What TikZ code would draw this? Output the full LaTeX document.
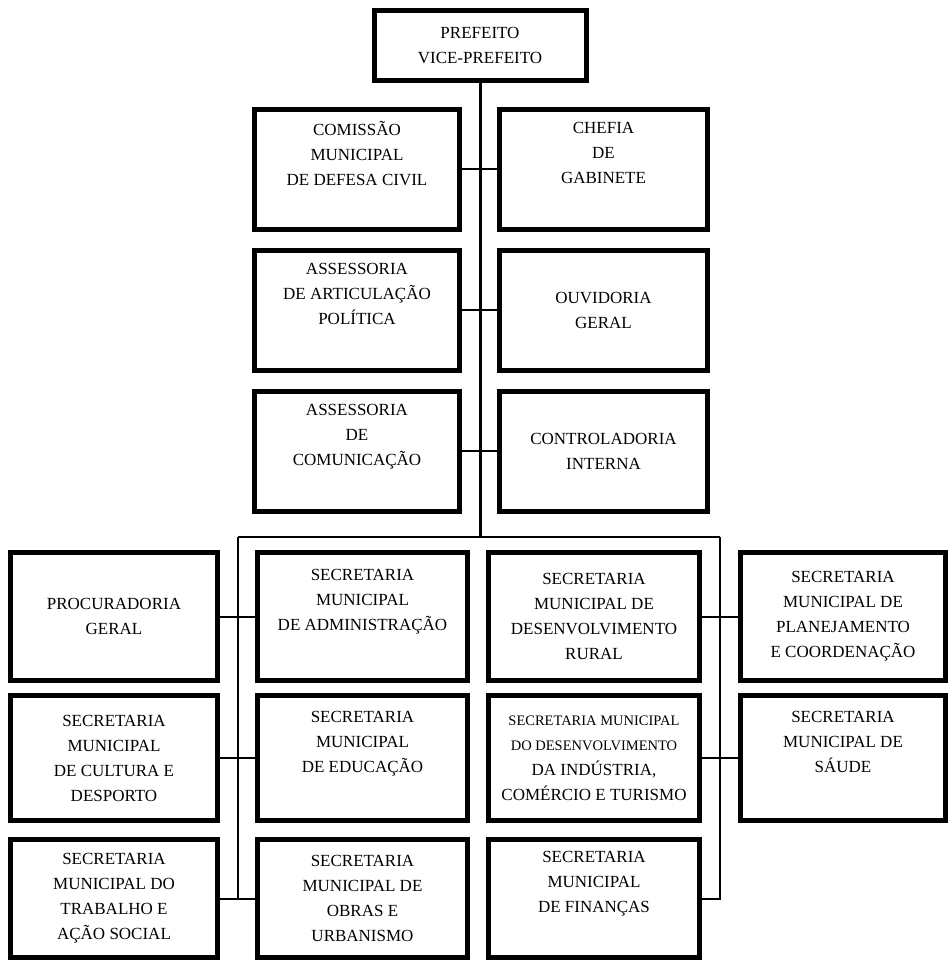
\documentclass[tikz,border=0pt]{standalone}
\usepackage{fontspec}
\setmainfont{Liberation Serif}
\begin{document}
\begin{tikzpicture}[x=1pt,y=-1pt,
    box/.style = {draw, rectangle, line width=5pt, inner sep=0pt, align=center,
                  font=\fontsize{17}{25}\selectfont},
    link/.style = {line width=2pt}]
\useasboundingbox (0,0) rectangle (948,960);

% chefe do executivo
\node[box, minimum width=212pt, minimum height=70pt] (pref) at (480,45.5) {PREFEITO\\VICE-PREFEITO};

% orgaos de assessoria
\node[box, minimum width=205pt, minimum height=120pt] (defesa) at (357,169.5) {COMISSÃO\\MUNICIPAL\\DE DEFESA CIVIL\\ \strut};
\node[box, minimum width=208pt, minimum height=120pt] (chefia) at (603.5,169.5) {CHEFIA\\DE\\GABINETE\\ \strut};
\node[box, minimum width=205pt, minimum height=120pt] (artic) at (357,310) {ASSESSORIA\\DE ARTICULAÇÃO\\POLÍTICA\\ \strut};
\node[box, minimum width=208pt, minimum height=120pt] (ouvid) at (603.5,310) {OUVIDORIA\\GERAL};
\node[box, minimum width=205pt, minimum height=120pt] (comun) at (357,451) {ASSESSORIA\\DE\\COMUNICAÇÃO\\ \strut};
\node[box, minimum width=208pt, minimum height=120pt] (contr) at (603.5,451) {CONTROLADORIA\\INTERNA};

% secretarias
\node[box, minimum width=207pt, minimum height=128pt] (procur) at (114,616.5) {PROCURADORIA\\GERAL};
\node[box, minimum width=210pt, minimum height=128pt] (admin) at (362.5,616.5) {SECRETARIA\\MUNICIPAL\\DE ADMINISTRAÇÃO\\ \strut};
\node[box, minimum width=211pt, minimum height=128pt] (rural) at (594,616.5) {SECRETARIA\\MUNICIPAL DE\\DESENVOLVIMENTO\\RURAL};
\node[box, minimum width=205pt, minimum height=128pt] (planej) at (843,616.5) {SECRETARIA\\MUNICIPAL DE\\PLANEJAMENTO\\E COORDENAÇÃO};

\node[box, minimum width=207pt, minimum height=125pt] (cultura) at (114,758) {SECRETARIA\\MUNICIPAL\\DE CULTURA E\\DESPORTO};
\node[box, minimum width=210pt, minimum height=125pt] (educ) at (362.5,758) {SECRETARIA\\MUNICIPAL\\DE EDUCAÇÃO\\ \strut};
\node[box, minimum width=211pt, minimum height=125pt] (industria) at (594,758) {{\fontsize{14.5}{25}\selectfont SECRETARIA MUNICIPAL}\\{\fontsize{14.5}{25}\selectfont DO DESENVOLVIMENTO}\\DA INDÚSTRIA,\\COMÉRCIO E TURISMO};
\node[box, minimum width=205pt, minimum height=125pt] (saude) at (843,758) {SECRETARIA\\MUNICIPAL DE\\SÁUDE\\ \strut};

\node[box, minimum width=207pt, minimum height=118pt] (trabalho) at (114,898.5) {SECRETARIA\\MUNICIPAL DO\\TRABALHO E\\AÇÃO SOCIAL};
\node[box, minimum width=210pt, minimum height=118pt] (obras) at (362.5,898.5) {SECRETARIA\\MUNICIPAL DE\\OBRAS E\\URBANISMO};
\node[box, minimum width=211pt, minimum height=118pt] (financas) at (594,898.5) {SECRETARIA\\MUNICIPAL\\DE FINANÇAS\\ \strut};

\coordinate (busm) at (480,537);
\coordinate (busl) at (238,537);
\coordinate (busr) at (720,537);

% ligacoes
\draw[line width=3pt] (pref.south) -- (busm);
\draw[link] (defesa.east) -- (chefia.west);
\draw[link] (artic.east) -- (ouvid.west);
\draw[link] (comun.east) -- (contr.west);
\draw[link] (busl) -- (busr);
\draw[link] (busl) -- (busl |- trabalho.east);
\draw[link] (busr) -- (busr |- financas.east) -- (financas.east);
\draw[link] (procur.east) -- (admin.west);
\draw[link] (cultura.east) -- (educ.west);
\draw[link] (trabalho.east) -- (obras.west);
\draw[link] (rural.east) -- (planej.west);
\draw[link] (industria.east) -- (saude.west);
\end{tikzpicture}
\end{document}
